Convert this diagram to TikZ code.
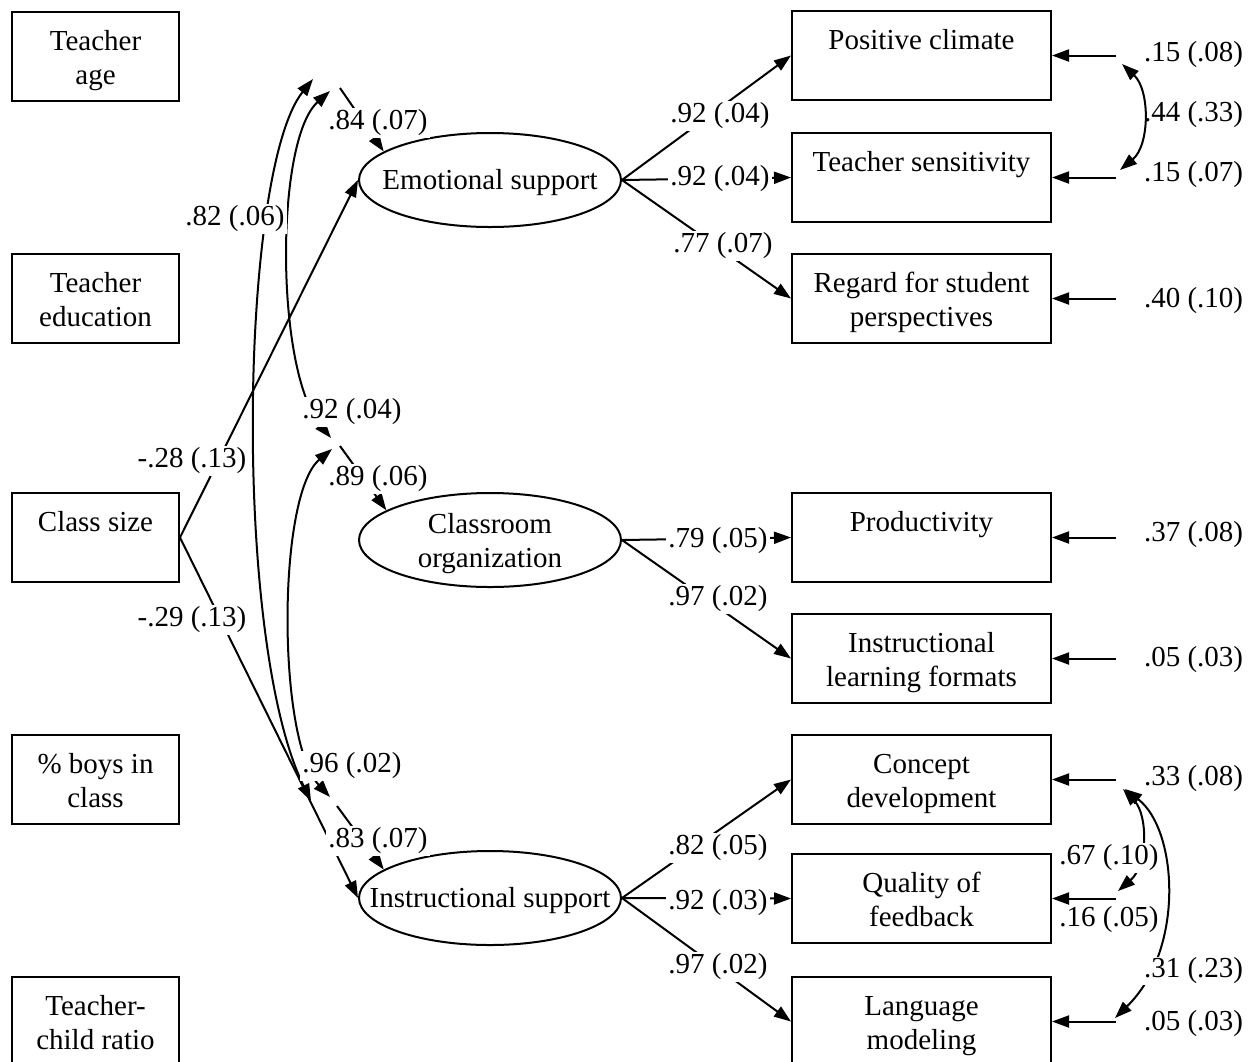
\documentclass[tikz,border=0pt]{standalone}
\usepackage{fontspec}
\setmainfont{Liberation Serif}
\usetikzlibrary{arrows.meta,shapes.geometric}
\newcommand\twol[2]{\rule{0pt}{32pt}#1\\\strut #2}
\newcommand\onel[1]{\rule[-6.3pt]{0pt}{31pt}#1}
\begin{document}
\begin{tikzpicture}[x=1pt,y=-1pt,line width=2pt,
  font=\fontsize{29}{34}\selectfont,
  >={Triangle[length=17pt,width=12pt]},
  box/.style={draw,rectangle,minimum height=89pt,inner sep=0pt,align=center},
  lbox/.style={box,minimum width=167pt},
  rbox/.style={box,minimum width=259pt},
  ell/.style={draw,ellipse,minimum width=262pt,minimum height=94pt,inner xsep=-200pt,inner ysep=-100pt,align=center},
  lab/.style={fill=white,inner sep=2pt},
  rlab/.style={anchor=west,inner sep=1pt}]
\useasboundingbox (0,0) rectangle (1260,1061);
\clip (0,0) rectangle (1260,1061);
% left boxes
\node[lbox] (TA) at (95.5,56.5) {\twol{Teacher}{age}};
\node[lbox] (TE) at (95.5,298.5) {\twol{Teacher}{education}};
\node[lbox] (CS) at (95.5,537.5) {\twol{Class size}{}};
\node[lbox] (PB) at (95.5,779.5) {\twol{\% boys in}{class}};
\node[lbox] (TC) at (95.5,1021.5) {\twol{Teacher-}{child ratio}};
% ellipses
\node[ell] (ES) at (490,180) {\onel{Emotional support}};
\node[ell] (CO) at (490,540) {\twol{Classroom}{organization}};
\node[ell] (IS) at (490,898) {\onel{Instructional support}};
% right boxes
\node[rbox] (PC) at (921.5,55.5) {\twol{Positive climate}{}};
\node[rbox] (TS) at (921.5,177.5) {\twol{Teacher sensitivity}{}};
\node[rbox] (RS) at (921.5,298.5) {\twol{Regard for student}{perspectives}};
\node[rbox] (PR) at (921.5,537.5) {\twol{Productivity}{}};
\node[rbox] (IL) at (921.5,658.5) {\twol{Instructional}{learning formats}};
\node[rbox] (CD) at (921.5,779.5) {\twol{Concept}{development}};
\node[rbox] (QF) at (921.5,898.5) {\twol{Quality of}{feedback}};
\node[rbox] (LM) at (921.5,1021.5) {\twol{Language}{modeling}};
% free ends
\coordinate (a1) at (313,79);  \coordinate (a2) at (311,801);
\coordinate (b1) at (330,91);  \coordinate (b2) at (331,438);
\coordinate (c1) at (332,449); \coordinate (c2) at (330,797);
\coordinate (d1) at (340,88);  \coordinate (d2) at (340,446); \coordinate (d3) at (337,806);
\coordinate (e1) at (1116,55.5);  \coordinate (e2) at (1116,177.5);
\coordinate (e3) at (1116,298.5); \coordinate (e4) at (1116,537.5);
\coordinate (e5) at (1116,658.5); \coordinate (e6) at (1116,779.5);
\coordinate (e7) at (1116,898.5); \coordinate (e8) at (1116,1021.5);
\coordinate (f1) at (1122,64);  \coordinate (f2) at (1120,170);
\coordinate (g1) at (1123,789); \coordinate (g2) at (1118,891);
\coordinate (h1) at (1125,789); \coordinate (h2) at (1115,1018);
% structural paths
\draw[->] (CS.east) -- (ES.west);
\draw[->] (CS.east) -- (IS.west);
\draw[<->] (a1) .. controls (240,170) and (232,640) .. (a2);
\draw[<->] (b1) .. controls (275,140) and (275,370) .. (b2);
\draw[<->] (c1) .. controls (277,495) and (277,740) .. (c2);
\draw[->] (d1) -- (ES.165);
\draw[->] (d2) -- (CO.164);
\draw[->] (d3) -- (IS.165);
% loadings
\draw[->] (ES.east) -- (PC.west);
\draw[->] (ES.east) -- (TS.west);
\draw[->] (ES.east) -- (RS.west);
\draw[->] (CO.east) -- (PR.west);
\draw[->] (CO.east) -- (IL.west);
\draw[->] (IS.east) -- (CD.west);
\draw[->] (IS.east) -- (QF.west);
\draw[->] (IS.east) -- (LM.west);
% residuals
\draw[->] (e1) -- (PC.east);
\draw[->] (e2) -- (TS.east);
\draw[->] (e3) -- (RS.east);
\draw[->] (e4) -- (PR.east);
\draw[->] (e5) -- (IL.east);
\draw[->] (e6) -- (CD.east);
\draw[->] (e7) -- (QF.east);
\draw[->] (e8) -- (LM.east);
\draw[<->] (f1) .. controls (1150,90) and (1150,145) .. (f2);
\draw[<->] (g1) .. controls (1148,815) and (1148,865) .. (g2);
\draw[<->] (h1) .. controls (1178,830) and (1185,950) .. (h2);
% labels
\node[lab] (l1) at (235,219) {.82 (.06)};
\node[lab] (l2) at (378,123) {.84 (.07)};
\node[lab] (l3) at (720,116) {.92 (.04)};
\node[lab] (l4) at (720,179) {.92 (.04)};
\node[lab] (l5) at (723,246) {.77 (.07)};
\node[lab] (l6) at (192,461) {-.28 (.13)};
\node[lab] (l7) at (352,412) {.92 (.04)};
\node[lab] (l8) at (378,479) {.89 (.06)};
\node[lab] (l9) at (718,541) {.79 (.05)};
\node[lab] (l10) at (718,599) {.97 (.02)};
\node[lab] (l11) at (192,620) {-.29 (.13)};
\node[lab] (l12) at (352,766) {.96 (.02)};
\node[lab] (l13) at (378,841) {.83 (.07)};
\node[lab] (l14) at (718,848) {.82 (.05)};
\node[lab] (l15) at (718,903) {.92 (.03)};
\node[lab] (l16) at (718,967) {.97 (.02)};
\node[rlab] (r1) at (1142,55) {.15 (.08)};
\node[rlab] (r2) at (1142,115) {.44 (.33)};
\node[rlab] (r3) at (1142,175) {.15 (.07)};
\node[rlab] (r4) at (1142,301) {.40 (.10)};
\node[rlab] (r5) at (1142,535) {.37 (.08)};
\node[rlab] (r6) at (1142,660) {.05 (.03)};
\node[rlab] (r7) at (1142,779) {.33 (.08)};
\node[lab] (r8) at (1109,858) {.67 (.10)};
\node[lab,inner sep=0pt] (r9) at (1109,920) {.16 (.05)};
\node[rlab,fill=white] (r10) at (1142,971) {.31 (.23)};
\node[rlab] (r11) at (1142,1024) {.05 (.03)};
\end{tikzpicture}
\end{document}
